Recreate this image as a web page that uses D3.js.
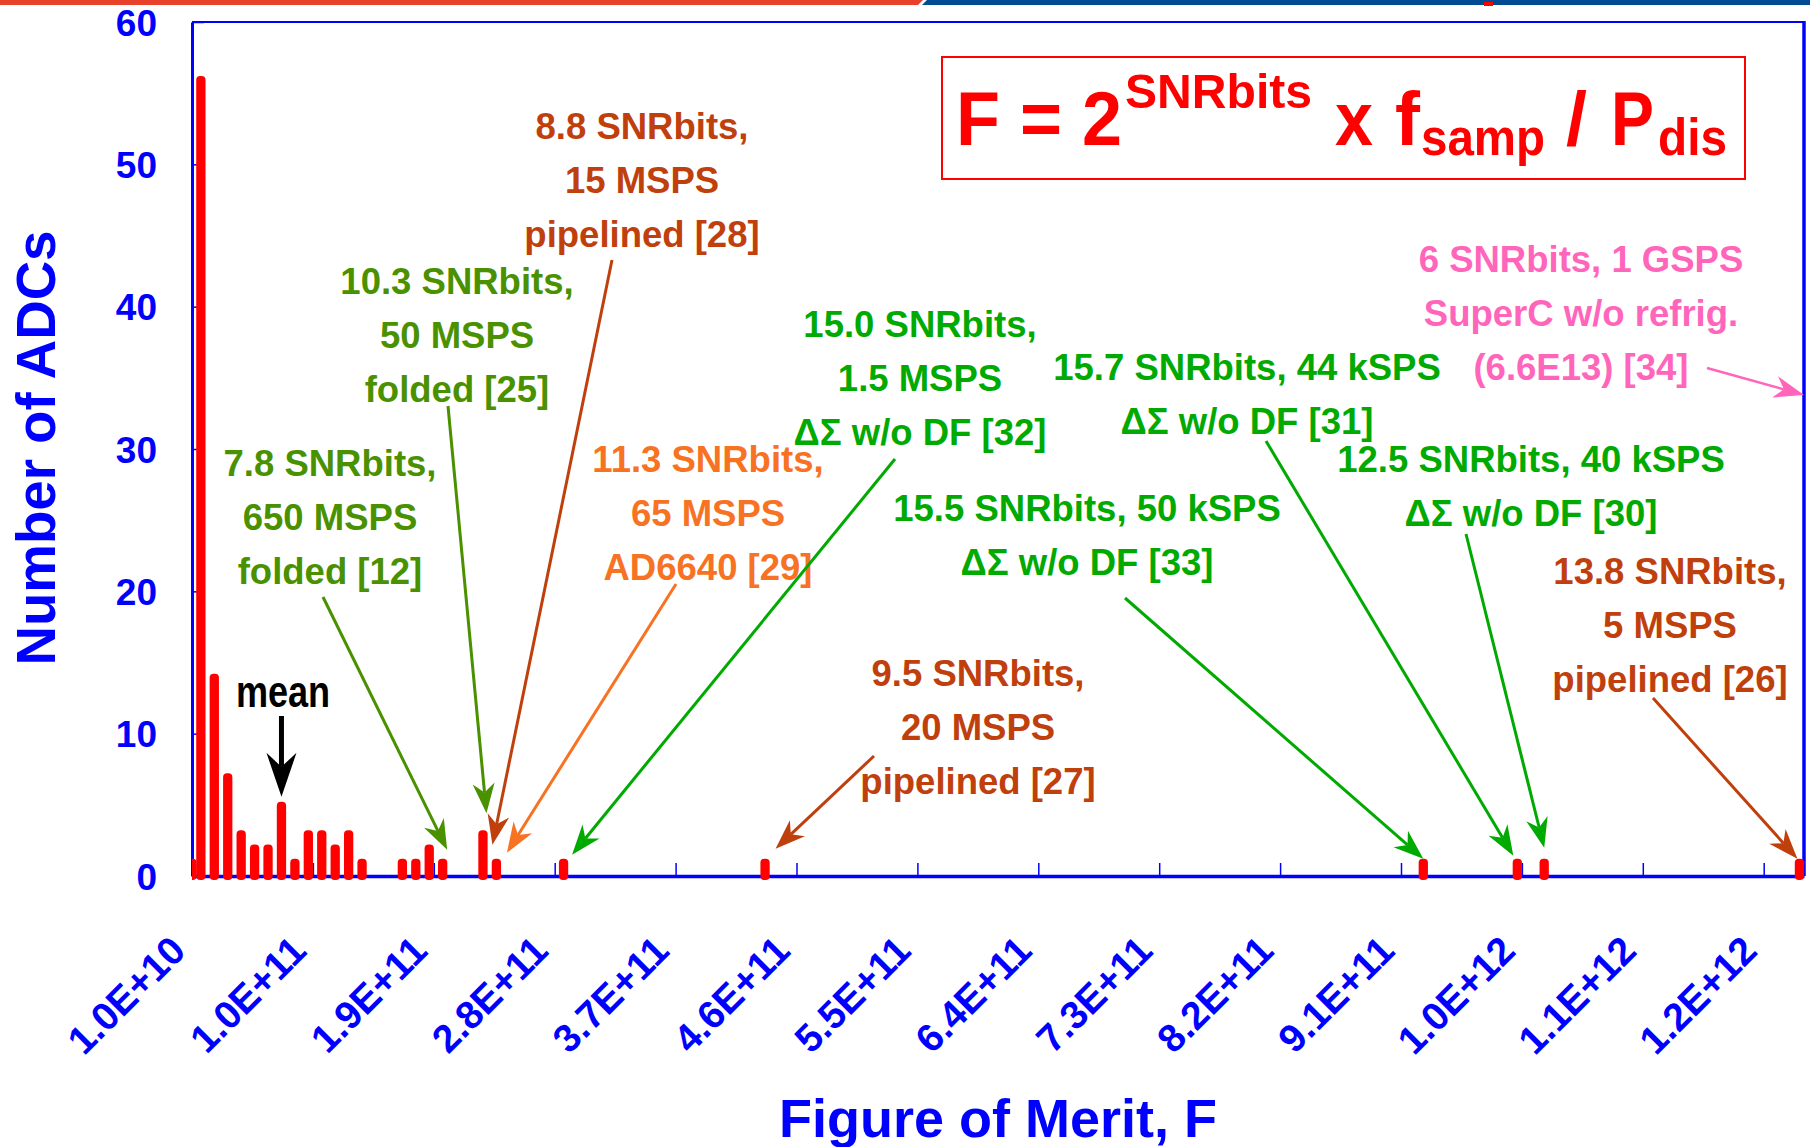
<!DOCTYPE html>
<html>
<head>
<meta charset="utf-8">
<script src="https://cdn.jsdelivr.net/npm/d3@7"></script>
<style>
  body { margin: 0; background: #fff; }
  svg text { font-family: "Liberation Sans", Arial, sans-serif; font-weight: bold; }
</style>
</head>
<body>
<svg id="chart"></svg>
<script>
let width = 1810, height = 1147;

// histogram bins: figure of merit F (bin position) and number of ADCs in that bin
const fomBins = [1.0e10, 1.66e10, 2.66e10, 3.66e10, 4.66e10, 5.66e10, 6.66e10, 7.66e10, 8.66e10, 9.66e10,
                 10.66e10, 11.66e10, 12.66e10, 13.66e10, 16.66e10, 17.66e10, 18.66e10, 19.66e10,
                 22.66e10, 23.66e10, 28.66e10, 43.66e10, 92.66e10, 99.66e10, 101.66e10, 120.66e10];
const adcCounts = [1, 56, 14, 7, 3, 2, 2, 5, 1, 3,
                   3, 2, 3, 1, 1, 1, 2, 1,
                   3, 1, 1, 1, 1, 1, 1, 1];

const yTicks = [0, 10, 20, 30, 40, 50, 60];
const xTicks = [1.0e10, 1.0e11, 1.9e11, 2.8e11, 3.7e11, 4.6e11, 5.5e11, 6.4e11, 7.3e11, 8.2e11, 9.1e11, 1.0e12, 1.09e12, 1.18e12];
const xTickLabels = ["1.0E+10", "1.0E+11", "1.9E+11", "2.8E+11", "3.7E+11", "4.6E+11", "5.5E+11",
                     "6.4E+11", "7.3E+11", "8.2E+11", "9.1E+11", "1.0E+12", "1.1E+12", "1.2E+12"];

// annotated converters: text, colour, and the bin they point at
const noteText = [
  ["8.8 SNRbits,", "15 MSPS", "pipelined [28]"],
  ["10.3 SNRbits,", "50 MSPS", "folded [25]"],
  ["7.8 SNRbits,", "650 MSPS", "folded [12]"],
  ["11.3 SNRbits,", "65 MSPS", "AD6640 [29]"],
  ["15.0 SNRbits,", "1.5 MSPS", "\u0394\u03A3 w/o DF [32]"],
  ["15.5 SNRbits, 50 kSPS", "\u0394\u03A3 w/o DF [33]"],
  ["15.7 SNRbits, 44 kSPS", "\u0394\u03A3 w/o DF [31]"],
  ["12.5 SNRbits, 40 kSPS", "\u0394\u03A3 w/o DF [30]"],
  ["13.8 SNRbits,", "5 MSPS", "pipelined [26]"],
  ["9.5 SNRbits,", "20 MSPS", "pipelined [27]"],
  ["6 SNRbits, 1 GSPS", "SuperC w/o refrig.", "(6.6E13) [34]"]
];
const noteColor = ["#bf400c", "#4a9100", "#4a9100", "#f77222", "#00aa00", "#00aa00",
                   "#00aa00", "#00aa00", "#bf400c", "#bf400c", "#ff66bb"];
const noteBin = [19, 18, 17, 19, 20, 22, 23, 24, 25, 21, -1];

// layout of the notes: label centre x, first baseline y, arrow start, tip offset from bar top
const noteLayout = [
  {cx: 642, y: 139, sx: 612, sy: 260, dx: -4, dy: -17},
  {cx: 457, y: 294, sx: 448, sy: 406, dx: 3.5, dy: -20},
  {cx: 330, y: 476, sx: 323, sy: 597, dx: 4.5, dy: -12},
  {cx: 708, y: 472, sx: 676, sy: 584, dx: 10.5, dy: -9},
  {cx: 920, y: 337, sx: 895, sy: 459, dx: 8.5, dy: -7},
  {cx: 1087, y: 521, sx: 1125, sy: 598, dx: 0, dy: -3},
  {cx: 1247, y: 380, sx: 1266, sy: 441, dx: -4, dy: -6},
  {cx: 1531, y: 472, sx: 1466, sy: 534, dx: 0, dy: -14},
  {cx: 1670, y: 584, sx: 1653, sy: 698, dx: -2, dy: -3},
  {cx: 978, y: 686, sx: 874, sy: 756, dx: 10.5, dy: -13},
  {cx: 1581, y: 272, sx: 1707, sy: 368, tx: 1804, ty: 395}
];
const lineStep = 54;

let svg = d3.select("#chart")
    .attr("width", width)
    .attr("height", height)
    .attr("viewBox", "0 0 " + width + " " + height);

svg.append("rect").attr("width", width).attr("height", height).attr("fill", "#fff");

// slide decoration strip on top
svg.append("path").attr("d", "M0,0 L923,0 L918,5 L0,5 Z").attr("fill", "#e8402b");
svg.append("path").attr("d", "M927,0 L1810,0 L1810,5 L922,5 Z").attr("fill", "#004b93");
svg.append("rect").attr("x", 1484).attr("y", 2).attr("width", 9).attr("height", 4).attr("fill", "#ff0000");

let pLeft = 192, pRight = 1804, pTop = 22, pBottom = 876;

let x = d3.scaleLinear().domain([1.0e10, 1.21e12]).range([pLeft, pRight]);
let y = d3.scaleLinear().domain([0, 60]).range([pBottom, pTop]);

const blue = "#0000ff";

// frame (top & right)
svg.append("line").attr("x1", pLeft).attr("x2", pRight).attr("y1", pTop).attr("y2", pTop)
    .attr("stroke", blue).attr("stroke-width", 2);
svg.append("line").attr("x1", pRight).attr("x2", pRight).attr("y1", pTop - 1).attr("y2", pBottom)
    .attr("stroke", blue).attr("stroke-width", 3.5);

// y axis
let yAxis = svg.append("g")
    .attr("transform", "translate(" + pLeft + ",0)")
    .call(d3.axisLeft(y).tickValues(yTicks).tickSize(-12).tickSizeOuter(0).tickPadding(35));
yAxis.select(".domain").attr("stroke", blue).attr("stroke-width", 3);
yAxis.selectAll(".tick line").attr("stroke", blue).attr("stroke-width", 1.5);
yAxis.selectAll(".tick text")
    .attr("fill", blue).attr("font-size", 37).attr("dy", "0.36em")
    .style("font-family", "'Liberation Sans', Arial, sans-serif").style("font-weight", "bold");

// x axis
let xAxis = svg.append("g")
    .attr("transform", "translate(0," + pBottom + ")")
    .call(d3.axisBottom(x).tickValues(xTicks).tickSize(-13).tickSizeOuter(0)
        .tickFormat((d, i) => xTickLabels[i]));
xAxis.select(".domain").attr("stroke", blue).attr("stroke-width", 3.5);
xAxis.selectAll(".tick line").attr("stroke", blue).attr("stroke-width", 1.5);
xAxis.selectAll(".tick text")
    .attr("fill", blue).attr("font-size", 39)
    .attr("text-anchor", "end")
    .attr("x", -5).attr("y", 77).attr("dy", 0)
    .attr("transform", "rotate(-45 -5 77)")
    .style("font-family", "'Liberation Sans', Arial, sans-serif").style("font-weight", "bold");

// axis titles
svg.append("text")
    .attr("x", 998).attr("y", 1137)
    .attr("text-anchor", "middle").attr("font-size", 54).attr("fill", blue)
    .text("Figure of Merit, F");
svg.append("text")
    .attr("transform", "translate(55,448) rotate(-90)")
    .attr("text-anchor", "middle").attr("font-size", 55).attr("fill", blue)
    .attr("textLength", 435).attr("lengthAdjust", "spacingAndGlyphs")
    .text("Number of ADCs");

// bars
svg.append("clipPath").attr("id", "plotclip")
    .append("rect").attr("x", pLeft).attr("y", 0).attr("width", pRight - pLeft + 4).attr("height", pBottom + 10);

let bw = 9.3;
svg.append("g")
    .attr("clip-path", "url(#plotclip)")
    .selectAll("rect")
    .data(fomBins.map((f, i) => ({f: f, n: adcCounts[i]})))
    .enter()
    .append("rect")
    .attr("x", d => x(d.f) - bw / 2)
    .attr("y", d => y(d.n) - 3)
    .attr("width", bw)
    .attr("height", d => y(0) - y(d.n) + 7)
    .attr("rx", 4).attr("ry", 4)
    .attr("fill", "#ff0000");

// arrow helper
function arrow(g, x1, y1, x2, y2, color, lw, len, hw, notch) {
    let a = Math.atan2(y2 - y1, x2 - x1), c = Math.cos(a), s = Math.sin(a);
    let bx = x2 - len * c, by = y2 - len * s;
    let nx = x2 - (len - notch) * c, ny = y2 - (len - notch) * s;
    g.append("line")
        .attr("x1", x1).attr("y1", y1).attr("x2", nx).attr("y2", ny)
        .attr("stroke", color).attr("stroke-width", lw);
    g.append("path")
        .attr("d", "M" + x2 + "," + y2 +
            " L" + (bx - hw * s) + "," + (by + hw * c) +
            " L" + nx + "," + ny +
            " L" + (bx + hw * s) + "," + (by - hw * c) + " Z")
        .attr("fill", color);
}

let notes = svg.append("g");
noteText.forEach((lines, i) => {
    let L = noteLayout[i], col = noteColor[i];
    let t = notes.append("text")
        .attr("text-anchor", "middle")
        .attr("font-size", 36.5)
        .attr("fill", col);
    lines.forEach((s, j) => {
        t.append("tspan").attr("x", L.cx).attr("y", L.y + j * lineStep).text(s);
    });
    let tx, ty;
    if (noteBin[i] >= 0) {
        let b = noteBin[i];
        tx = x(fomBins[b]) + L.dx;
        ty = y(adcCounts[b]) + L.dy;
    } else {
        tx = L.tx; ty = L.ty;
    }
    let lw = noteBin[i] >= 0 ? 3 : 2.5;
    arrow(notes, L.sx, L.sy, tx, ty, col, lw, 30, 11, 9);
});

// mean marker
svg.append("text")
    .attr("transform", "translate(283,707) scale(0.82,1)")
    .attr("text-anchor", "middle").attr("font-size", 44).attr("fill", "#000")
    .text("mean");
arrow(svg, x(fomBins[7]), 716, x(fomBins[7]), y(adcCounts[7]) - 8, "#000", 5, 44, 15, 14);

// formula box
svg.append("rect")
    .attr("x", 942).attr("y", 57).attr("width", 803).attr("height", 122)
    .attr("fill", "none").attr("stroke", "#ff0000").attr("stroke-width", 2);

// formula pieces: text, left x, baseline, font size, rendered width
const fmlParts = [
  ["F = 2", 956, 145, 76, 166],
  ["SNRbits", 1125, 108, 49, 187],
  ["x", 1335, 145, 76, 38],
  ["f", 1395, 145, 76, 25],
  ["samp", 1421, 155, 52, 124],
  ["/", 1566, 145, 76, 21],
  ["P", 1611, 145, 76, 43],
  ["dis", 1658, 155, 52, 69]
];
svg.append("g").selectAll("text")
    .data(fmlParts)
    .enter()
    .append("text")
    .attr("x", d => d[1]).attr("y", d => d[2])
    .attr("font-size", d => d[3])
    .attr("textLength", d => d[4]).attr("lengthAdjust", "spacingAndGlyphs")
    .attr("fill", "#ff0000")
    .text(d => d[0]);
</script>
</body>
</html>
